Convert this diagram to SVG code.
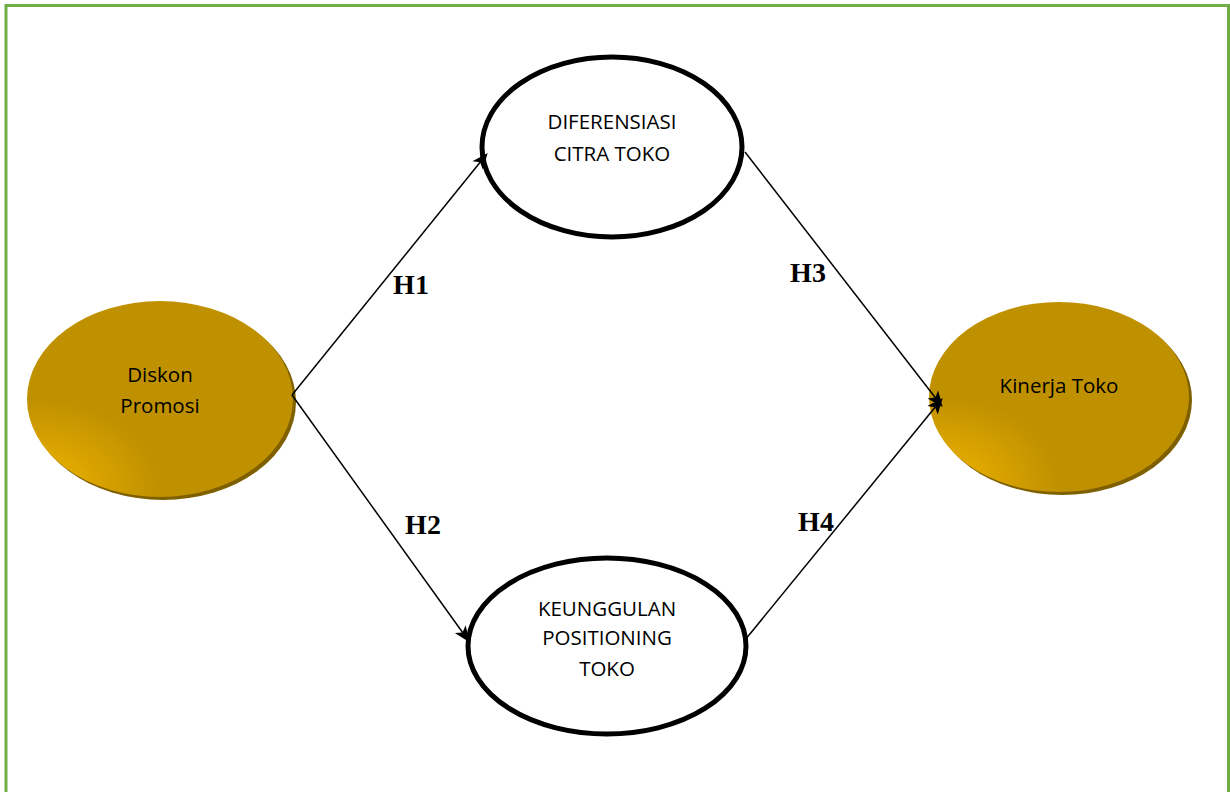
<svg xmlns="http://www.w3.org/2000/svg" width="1230" height="792" viewBox="0 0 1230 792">
<style>
.lbl{font-family:"Open Sans","Liberation Sans",sans-serif;font-size:20.5px;fill:#000;text-anchor:middle}
.h{font-family:"Liberation Serif",serif;font-size:28px;font-weight:bold;fill:#000;text-anchor:middle}
.white{fill:#fff;stroke:#000;stroke-width:5}
.gold{fill:url(#g)}
.shadow{fill:#7f6000}
.conn{stroke:#000;stroke-width:1.5;fill:none;marker-end:url(#arr)}
</style>
<defs>
<radialGradient id="g" cx="0.05" cy="0.95" r="0.75">
<stop offset="0" stop-color="#f0b400"/>
<stop offset="0.6" stop-color="#bf9000"/>
<stop offset="1" stop-color="#bf9000"/>
</radialGradient>
<marker id="arr" viewBox="0 0 12 12" refX="10" refY="6" markerWidth="16" markerHeight="16" markerUnits="userSpaceOnUse" orient="auto">
<path d="M0,1 L12,6 L0,11 L3,6 z" fill="#000"/>
</marker>
</defs>
<rect x="0" y="0" width="1230" height="792" fill="#fff"/>
<path d="M6,792 V5.5 H1228.5 V792" fill="none" stroke="#70ad47" stroke-width="3"/>
<g id="node-diskon">
<ellipse class="shadow" cx="163" cy="402" rx="133" ry="98"/>
<ellipse class="gold" cx="160" cy="399" rx="133" ry="98"/>
<text class="lbl" x="160" y="382">Diskon</text>
<text class="lbl" x="160" y="413">Promosi</text>
</g>
<g id="node-kinerja">
<ellipse class="shadow" cx="1062" cy="400" rx="130" ry="95"/>
<ellipse class="gold" cx="1059" cy="397" rx="130" ry="95"/>
<text class="lbl" x="1059" y="393">Kinerja Toko</text>
</g>
<g id="node-diferensiasi">
<ellipse class="white" cx="612" cy="147" rx="130" ry="90"/>
<text class="lbl" x="612" y="129">DIFERENSIASI</text>
<text class="lbl" x="612" y="161">CITRA TOKO</text>
</g>
<g id="node-keunggulan">
<ellipse class="white" cx="607" cy="646" rx="139" ry="88"/>
<text class="lbl" x="607" y="616">KEUNGGULAN</text>
<text class="lbl" x="607" y="645">POSITIONING</text>
<text class="lbl" x="607" y="676">TOKO</text>
</g>
<g id="connectors">
<line class="conn" x1="292" y1="395" x2="486" y2="155"/>
<line class="conn" x1="292" y1="395" x2="468" y2="640"/>
<line class="conn" x1="745" y1="152" x2="941" y2="405"/>
<line class="conn" x1="745" y1="640" x2="941" y2="400"/>
</g>
<g id="labels">
<text class="h" x="411" y="294">H1</text>
<text class="h" x="423" y="534">H2</text>
<text class="h" x="808" y="282">H3</text>
<text class="h" x="816" y="531">H4</text>
</g>
</svg>
